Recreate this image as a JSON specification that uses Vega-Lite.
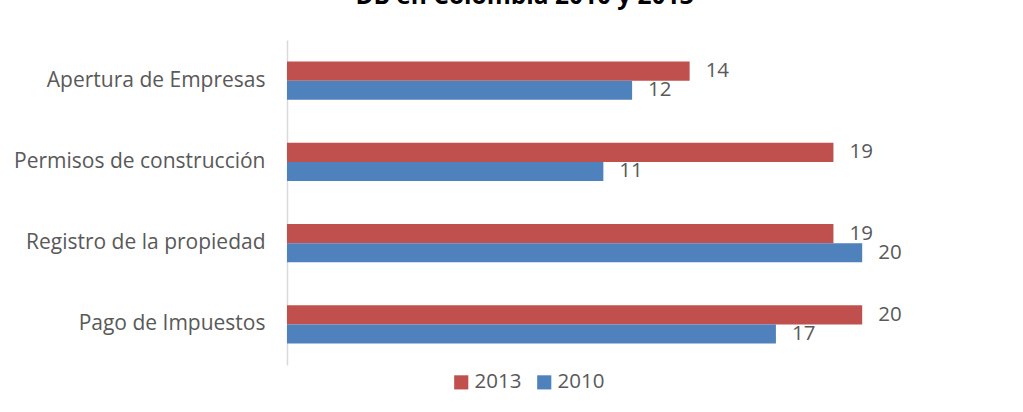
{
  "$schema": "https://vega.github.io/schema/vega-lite/v6.json",
  "width": 719,
  "height": 325,
  "autosize": {"type": "none"},
  "padding": {"left": 287, "top": 40, "right": 17, "bottom": 47},
  "background": "white",
  "title": {"text": "DB en Colombia 2010 y 2013", "anchor": "middle", "dx": -122, "offset": 33, "dy": 21, "baseline": "alphabetic", "fontSize": 24.5, "fontWeight": "bold", "font": "Open Sans", "color": "#000000"},
  "data": {"values": [
    {"tramite": "Apertura de Empresas", "anio": "2013", "valor": 14},
    {"tramite": "Apertura de Empresas", "anio": "2010", "valor": 12},
    {"tramite": "Permisos de construcción", "anio": "2013", "valor": 19},
    {"tramite": "Permisos de construcción", "anio": "2010", "valor": 11},
    {"tramite": "Registro de la propiedad", "anio": "2013", "valor": 19},
    {"tramite": "Registro de la propiedad", "anio": "2010", "valor": 20},
    {"tramite": "Pago de Impuestos", "anio": "2013", "valor": 20},
    {"tramite": "Pago de Impuestos", "anio": "2010", "valor": 17}
  ]},
  "encoding": {
    "y": {"field": "tramite", "type": "nominal", "sort": ["Apertura de Empresas", "Permisos de construcción", "Registro de la propiedad", "Pago de Impuestos"],
      "scale": {"paddingInner": 0.53, "paddingOuter": 0.265},
      "axis": {"title": null, "ticks": false, "domainColor": "#D9D9D9", "domainWidth": 1.5, "labelFont": "Open Sans", "labelFontSize": 21, "labelColor": "#595959", "labelPadding": 22, "labelLimit": 400}},
    "yOffset": {"field": "anio", "type": "nominal", "sort": ["2013", "2010"], "scale": {"paddingInner": 0, "paddingOuter": 0}},
    "x": {"field": "valor", "type": "quantitative", "scale": {"domain": [0, 25]}, "axis": null}
  },
  "layer": [
    {"mark": {"type": "bar"},
     "encoding": {"color": {"field": "anio", "type": "nominal", "sort": ["2013", "2010"],
       "scale": {"domain": ["2013", "2010"], "range": ["#C0504D", "#4F81BD"]},
       "legend": {"title": null, "orient": "none", "direction": "horizontal", "legendX": 164, "legendY": 332, "symbolType": "square", "symbolSize": 200, "symbolStrokeWidth": 0, "labelFont": "Open Sans", "labelFontSize": 20.5, "labelColor": "#595959", "columnPadding": 12, "labelOffset": 3}}}},
    {"mark": {"type": "text", "align": "left", "baseline": "middle", "dx": 16, "font": "Open Sans", "fontSize": 20.5, "color": "#595959"},
     "encoding": {"text": {"field": "valor", "type": "quantitative"}}}
  ],
  "config": {"view": {"stroke": null}}
}
